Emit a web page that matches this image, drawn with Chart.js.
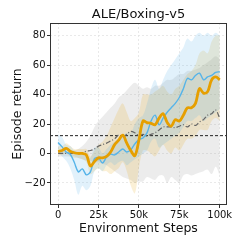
<!DOCTYPE html>
<html>
<head>
<meta charset="utf-8">
<script src="https://cdn.jsdelivr.net/npm/chart.js@4.4.1/dist/chart.umd.min.js"></script>
<style>
html, body { margin: 0; padding: 0; background: #fff; }
canvas { display: block; }
</style>
</head>
<body>
<canvas id="myChart" width="244" height="244"></canvas>
<script>
// environment steps, in thousands
const steps = [0, 2.5, 5, 7.5, 10, 12.5, 15, 17.5, 20, 22.5, 25, 27.5, 30, 32.5, 35, 37.5, 40, 42.5, 45, 47.5,
               50, 52.5, 55, 57.5, 60, 62.5, 65, 67.5, 70, 72.5, 75, 77.5, 80, 82.5, 85, 87.5, 90, 92.5, 95, 97.5, 100];

const blueMean = [7.5, 4.5, 1, -0.5, -6, -12.5, -10.5, -14.5, -12.5, -3.5, -3, -6.5, -2.5, -0.5, -1, 1, 3, 1, 2.5, 6.5,
                  9.5, 10.5, 14, 22, 26, 19.5, 24, 28, 31, 34, 38, 44, 51, 50, 53, 54.5, 50, 52, 53, 55, 55.5];
const blueLow = [1, -2, -5, -10, -18, -28, -22, -25, -22, -12, -10, -12, -8, -6, -8, -6, -5, -8, -6, -4,
                 -2, 0, 2, 8, 10, 4, 6, 8, 10, 12, 14, 18, 22, 22, 24, 26, 22, 24, 26, 28, 30];
const blueHigh = [13, 11, 6, 5, 2, 1, 0, -2, -3, 4, 4, 0, 3, 6, 8, 10, 12, 14, 14, 20,
                  24, 26, 34, 44, 50, 44, 50, 56, 60, 64, 68, 72, 78, 76, 80, 82, 80, 82, 80, 82, 80];

const orangeMean = [1.5, 2, 3.5, 1.5, 0.5, 0, 0, -1, -8.5, -5.5, -3, -3, -2, 1, 6, 9, 12.5, 7, 2, -1.5,
                    9, 22, 21, 20.5, 19.5, 24, 27, 21, 18.5, 23, 22, 26, 31, 31, 34, 44, 41, 42, 50, 52, 50];
const orangeLow = [-1, -1, 0, -2, -3, -3, -4, -6, -14, -12, -10, -12, -12, -14, -12, -10, -6, -12, -22, -27,
                   -10, 2, 2, 0, -2, 2, 6, 2, 0, 4, 2, 6, 10, 10, 12, 16, 16, 16, 22, 24, 22];
const orangeHigh = [5, 5, 7, 5, 3, 3, 3, 3, -2, 2, 6, 8, 12, 18, 24, 30, 34, 28, 22, 24,
                    28, 40, 40, 40, 42, 44, 46, 42, 40, 44, 46, 50, 54, 56, 60, 68, 70, 68, 76, 80, 80];

const grayMean = [0, 0, 0, 0, 0, 0, 0.5, 1.5, 2, 3, 5, 6, 7, 8.5, 10, 12.5, 11, 13, 15, 14,
                  12, 13, 12, 13, 14, 16, 18, 18, 18, 17.5, 18.5, 19.5, 18, 20, 19, 21.5, 23, 26, 27, 29.5, 24];
const grayLow = [-2, -2, -2, -2, -2, -3, -4, -5, -5, -6, -6, -7, -8, -10, -12, -14, -16, -17, -18, -20,
                 -19, -19, -16, -17, -18, -15, -15, -20, -16, -18, -20, -15, -14, -15, -14, -13, -12, -11, -14, -9, -15];
const grayHigh = [2, 2, 2, 2, 2, 3, 5, 8, 12, 18, 22, 25, 28, 31, 34, 38, 40, 43, 46, 48,
                  46, 44, 45, 44, 46, 46, 48, 50, 50, 52, 54, 54, 56, 56, 57, 58, 60, 62, 64, 66, 64];

const humanScore = 12.1;
const xTicks = [0, 25, 50, 75, 100];
const yTicks = [-20, 0, 20, 40, 60, 80];

function pts(values){
    return steps.map((s, i) => ({x: s, y: values[i]}));
}

function band(values, color, fillTo){
    return {
        data: pts(values),
        borderWidth: 0,
        pointRadius: 0,
        tension: 0.35,
        backgroundColor: color,
        fill: fillTo
    };
}

const frameAndTitle = {
    id: 'frameAndTitle',
    afterDraw(chart){
        const ctx = chart.ctx;
        const a = chart.chartArea;
        ctx.save();
        ctx.strokeStyle = '#333';
        ctx.lineWidth = 1;
        ctx.strokeRect(a.left + 0.5, a.top + 0.5, a.right - a.left - 1, a.bottom - a.top - 1);
        ctx.fillStyle = '#111';
        ctx.font = '13px "DejaVu Sans"';
        ctx.textAlign = 'center';
        ctx.textBaseline = 'middle';
        ctx.fillText('ALE/Boxing-v5', (a.left + a.right) / 2, 15);
        ctx.restore();
    }
};

Chart.defaults.font.family = '"DejaVu Sans", sans-serif';
Chart.defaults.color = '#111';

const ctx = document.getElementById('myChart').getContext('2d');
new Chart(ctx, {
    type: 'line',
    data: {
        datasets: [
            {data: pts(orangeMean), borderColor: '#E69F00', borderWidth: 2.8, pointRadius: 0, tension: 0.35, fill: false},
            {data: pts(blueMean), borderColor: '#56B4E9', borderWidth: 1.4, pointRadius: 0, tension: 0.35, fill: false},
            {data: pts(grayMean), borderColor: '#666', borderWidth: 1.2, borderDash: [5, 2, 1, 2], pointRadius: 0, tension: 0.35, fill: false},
            {data: [{x: -5, y: humanScore}, {x: 104.5, y: humanScore}], borderColor: '#222', borderWidth: 1, borderDash: [3, 2], pointRadius: 0, fill: false},
            band(blueLow, 'transparent', false),
            band(blueHigh, 'rgba(86,180,233,0.18)', '-1'),
            band(orangeLow, 'transparent', false),
            band(orangeHigh, 'rgba(230,159,0,0.16)', '-1'),
            band(grayLow, 'transparent', false),
            band(grayHigh, 'rgba(128,128,128,0.15)', '-1')
        ]
    },
    options: {
        responsive: false,
        animation: false,
        layout: {padding: {top: 23, right: 17, left: 0, bottom: 0}},
        plugins: {legend: {display: false}, tooltip: {enabled: false}, title: {display: false}},
        scales: {
            x: {
                type: 'linear',
                min: -5,
                max: 104.5,
                afterBuildTicks: s => { s.ticks = xTicks.map(v => ({value: v})); },
                afterFit: s => { s.height = 39; },
                ticks: {font: {size: 10}, padding: 1, maxRotation: 0, callback: v => v === 0 ? '0' : v + 'k'},
                grid: {color: '#e4e4e4', lineWidth: 0.8, tickColor: '#333', tickLength: 3, tickWidth: 1},
                border: {display: false, dash: [2, 2]},
                title: {display: true, text: 'Environment Steps', font: {size: 12.5}, padding: {top: 0, bottom: 8}}
            },
            y: {
                min: -35,
                max: 88.6,
                afterBuildTicks: s => { s.ticks = yTicks.map(v => ({value: v})); },
                afterFit: s => { s.width = 50; },
                ticks: {font: {size: 10}, padding: 1.5, callback: v => v < 0 ? '\u2212' + Math.abs(v) : '' + v},
                grid: {color: '#e4e4e4', lineWidth: 0.8, tickColor: '#333', tickLength: 3, tickWidth: 1},
                border: {display: false, dash: [2, 2]},
                title: {display: true, text: 'Episode return', font: {size: 12.5}, padding: {top: 10.5, bottom: 0}}
            }
        }
    },
    plugins: [frameAndTitle]
});
</script>
</body>
</html>
